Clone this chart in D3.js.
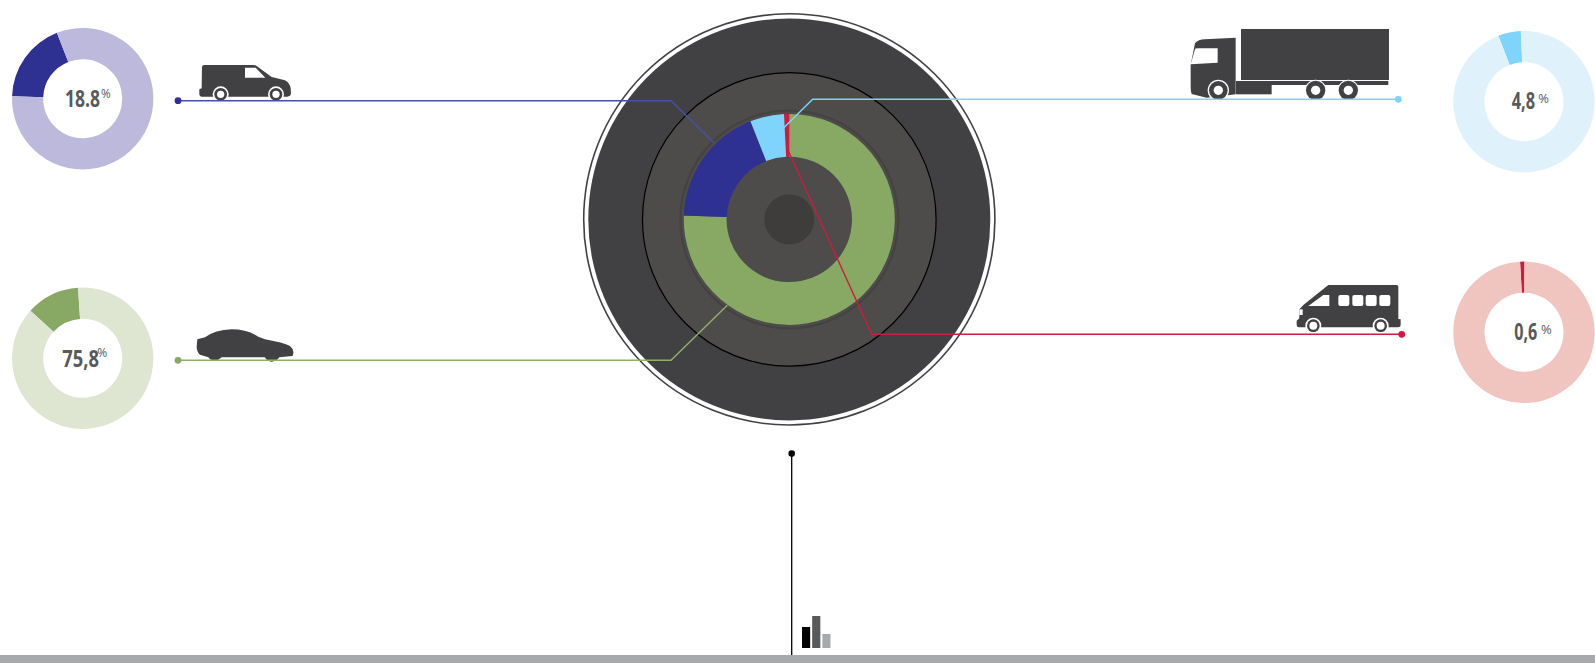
<!DOCTYPE html>
<html>
<head>
<meta charset="utf-8">
<script src="https://cdn.jsdelivr.net/npm/d3@7"></script>
<style>
  html, body { margin: 0; padding: 0; background: #fff; }
  svg { display: block; }
  text { font-family: "Open Sans", sans-serif; fill: #58595b; }
</style>
</head>
<body>
<svg id="visualization" width="1595" height="663"></svg>
<script>
const svg = d3.select("#visualization");
const width = 1595;
const height = 663;

// Categories and printed labels
const categories = ["Van", "Car", "Truck", "Minibus"];
const labels = ["18.8", "75,8", "4,8", "0,6"];

// Shares as the slices cover them in the picture
const wheelOrder = ["Minibus", "Car", "Van", "Truck"];
const wheelShares = [0.8, 75.6, 18.4, 5.2];
const donutShares = [18.5, 12.2, 5.2, 1];
const donutStarts = [-88, -47.7, -21.3, -3.2];
const barValues = [21, 32, 14];

const colors = { Van: "#2e3192", Car: "#87a964", Truck: "#7fd4fb", Minibus: "#d2193f" };
const paleColors = ["#bdb9dd", "#dee6d2", "#dff2fc", "#f1c5bf"];
const lineColors = ["#4a4fa6", "#8fb06d", "#7fd4fb", "#d2193f"];
const donutCenters = [[82.7, 98.7], [82.7, 358.3], [1524, 101.7], [1524, 332.3]];
// x, baseline, width of number; x, baseline, width of % sign
const labelSpots = [[65, 106.7, 35], [62.3, 366.7, 36.7], [1511.7, 108.7, 23.3], [1514.3, 340, 23]];
const percentSpots = [[101, 98, 9.7], [97.3, 357.3, 10], [1538.3, 103.3, 10.7], [1541, 334.3, 10.7]];
const leaders = [
  [[178, 100.7], [671, 100.7], [714, 142.7]],
  [[178, 360.3], [671, 360.3], [727.3, 305.3]],
  [[1398.3, 99.3], [812.7, 99.3], [783.3, 128.3]],
  [[1401.7, 334.3], [871.7, 334.3], [788.3, 150.7]]
];

const rad = Math.PI / 180;
const cx = 789.3, cy = 219.4;

// Tyre
const wheel = svg.append("g").attr("transform", `translate(${cx},${cy})`);
wheel.append("circle").attr("r", 205.6).attr("fill", "#fff").attr("stroke", "#414042").attr("stroke-width", 1.6);
wheel.append("circle").attr("r", 201).attr("fill", "#414042");
wheel.append("circle").attr("r", 146.8).attr("fill", "#4d4c4a").attr("stroke", "#000").attr("stroke-width", 1.2);
wheel.append("circle").attr("r", 109).attr("fill", "#4d4c4a").attr("stroke", "#444341").attr("stroke-width", 2);

const wheelStart = -wheelShares[0] * 3.6 * rad;
const wheelPie = d3.pie().sort(null).startAngle(wheelStart).endAngle(wheelStart + 2 * Math.PI);
const wheelArc = d3.arc().innerRadius(62.7).outerRadius(105.5);
wheel.selectAll("path.slice")
  .data(wheelPie(wheelShares))
  .join("path")
  .attr("class", "slice")
  .attr("d", wheelArc)
  .attr("fill", (d, i) => colors[wheelOrder[i]]);
wheel.append("circle").attr("r", 25).attr("fill", "#3e3d3b");

// Vehicle icons, drawn in 3x crop units
const iconFill = "#414042";
function tyreMark(g, x, y, ring, r, hole) {
  g.append("circle").attr("cx", x).attr("cy", y).attr("r", ring).attr("fill", "#fff");
  g.append("circle").attr("cx", x).attr("cy", y).attr("r", r).attr("fill", iconFill);
  g.append("circle").attr("cx", x).attr("cy", y).attr("r", hole).attr("fill", "#fff");
}
function icon(x, y) {
  return svg.append("g").attr("transform", `translate(${x},${y}) scale(0.3333)`);
}

const van = icon(190, 55);
van.append("path").attr("fill", iconFill)
  .attr("d", "M36,36 Q36,30 43,30 L190,30 Q196,30 200,33 L245,66 L285,76 Q298,82 302,100 L303,115 Q302,125 292,125 L35,125 Q28,125 28,118 L28,103 L35,100 Z");
van.append("path").attr("fill", "#fff").attr("d", "M165,38 L197,38 L226,68 L165,68 Z");
tyreMark(van, 92, 118, 24, 19, 11);
tyreMark(van, 258, 118, 24, 19, 11);

const car = icon(190, 320);
car.append("path").attr("fill", iconFill)
  .attr("d", "M22,58 L45,52 Q75,30 125,28 Q170,28 205,50 L225,58 Q280,68 300,78 Q312,88 310,100 L308,108 L268,112 Q258,125 245,125 Q232,125 225,112 L95,112 Q85,122 75,122 Q62,122 55,112 L30,104 Q20,95 20,80 Z");

const truck = icon(1150, 10);
truck.append("rect").attr("x", 273).attr("y", 57).attr("width", 444).attr("height", 153).attr("fill", iconFill);
truck.append("rect").attr("x", 258).attr("y", 213).attr("width", 457).attr("height", 12).attr("fill", iconFill);
truck.append("rect").attr("x", 258).attr("y", 225).attr("width", 107).attr("height", 28).attr("fill", iconFill);
truck.append("path").attr("fill", iconFill)
  .attr("d", "M135,100 Q145,88 165,88 L257,83 L257,253 L240,255 L170,263 L125,252 Q122,245 122,230 L122,165 Z");
truck.append("path").attr("fill", "#fff").attr("d", "M135,118 Q135,115 145,115 L203,115 L203,158 L122,163 Z");
tyreMark(truck, 205, 241, 32, 28, 14);
tyreMark(truck, 497, 241, 32, 29, 14);
tyreMark(truck, 595, 241, 32, 29, 14);

const bus = icon(1250, 250);
bus.append("path").attr("fill", iconFill)
  .attr("d", "M235,105 L440,105 Q445,105 445,110 L445,207 L452,208 L452,225 Q452,232 445,232 L147,232 Q140,232 140,225 L140,212 L148,205 L148,178 L160,165 Z");
bus.append("path").attr("fill", "#fff").attr("d", "M175,168 L220,135 L238,135 L238,168 Z");
bus.append("rect").attr("x", 148).attr("y", 178).attr("width", 10).attr("height", 17).attr("fill", "#fff");
bus.selectAll("rect.win")
  .data([265, 307, 347, 388])
  .join("rect")
  .attr("class", "win")
  .attr("x", d => d).attr("y", 135)
  .attr("width", 33).attr("height", 33).attr("rx", 6)
  .attr("fill", "#fff");
tyreMark(bus, 190, 227, 24, 19, 12);
tyreMark(bus, 392, 227, 24, 19, 12);

// Leader lines over the tyre and icons
const line = d3.line();
categories.forEach((name, i) => {
  svg.append("path")
    .attr("d", line(leaders[i]))
    .attr("fill", "none")
    .attr("stroke", lineColors[i])
    .attr("stroke-width", 1.4);
  svg.append("circle")
    .attr("cx", leaders[i][0][0]).attr("cy", leaders[i][0][1])
    .attr("r", 3.4)
    .attr("fill", colors[name]);
});

// Condensed look: squeeze the text to the width it has in the picture
function squeezedText(spot, size, weight, str) {
  const t = svg.append("text")
    .attr("font-size", size)
    .attr("font-weight", weight)
    .text(str);
  const k = spot[2] / t.node().getComputedTextLength();
  t.attr("transform", `translate(${spot[0]},${spot[1]}) scale(${k},1)`);
}

// Small donuts
const donutArc = d3.arc().innerRadius(39.5).outerRadius(70.7);
categories.forEach((name, i) => {
  const g = svg.append("g")
    .attr("class", "donut")
    .attr("transform", `translate(${donutCenters[i][0]},${donutCenters[i][1]})`);
  const start = donutStarts[i] * rad;
  const pie = d3.pie().sort(null).startAngle(start).endAngle(start + 2 * Math.PI);
  g.selectAll("path")
    .data(pie([donutShares[i], 100 - donutShares[i]]))
    .join("path")
    .attr("d", donutArc)
    .attr("fill", (d, j) => j === 0 ? colors[name] : paleColors[i]);

  squeezedText(labelSpots[i], 23, "bold", labels[i]);
  squeezedText(percentSpots[i], 12, "normal", "%");
});

// Bottom band, stem and the small bar icon
svg.append("rect").attr("x", 0).attr("y", 655).attr("width", width).attr("height", 8).attr("fill", "#a7a9ac");
svg.append("line").attr("x1", 791.7).attr("x2", 791.7).attr("y1", 453.6).attr("y2", 655).attr("stroke", "#000").attr("stroke-width", 1.3);
svg.append("circle").attr("cx", 791.7).attr("cy", 453.6).attr("r", 3.3).attr("fill", "#000");

const barX = d3.scaleBand().domain(d3.range(barValues.length)).range([802, 830.5]).paddingInner(0.2);
const barY = d3.scaleLinear().domain([0, 32]).range([648, 616]);
const barColors = ["#000", "#58595b", "#a7a9ac"];
svg.selectAll("rect.bar")
  .data(barValues)
  .join("rect")
  .attr("class", "bar")
  .attr("x", (d, i) => barX(i))
  .attr("y", d => barY(d))
  .attr("width", barX.bandwidth())
  .attr("height", d => barY(0) - barY(d))
  .attr("fill", (d, i) => barColors[i]);
</script>
</body>
</html>
